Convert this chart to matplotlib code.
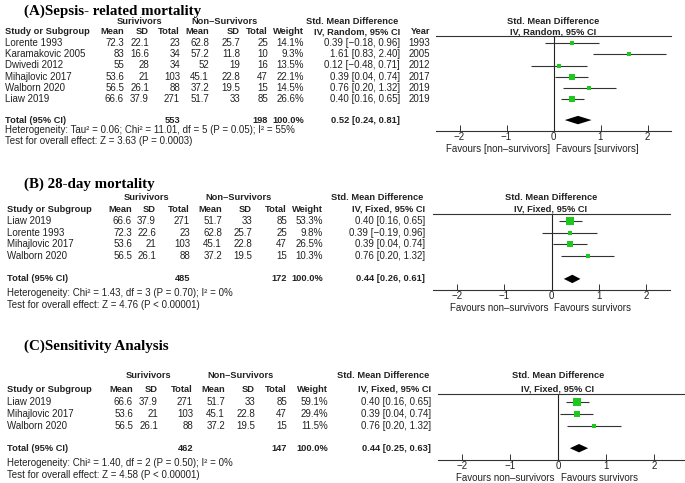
import matplotlib
matplotlib.use("Agg")
import matplotlib.pyplot as plt

W, H = 685, 483
FS = 7.0
FSB = 6.7
TFS = 10.8
TC = "#222222"
GREEN = "#1ec81e"
plt.rcParams['font.family'] = ['Liberation Sans', 'DejaVu Sans']

# ---------------- data ----------------
A_studies = ["Lorente 1993", "Karamakovic 2005", "Dwivedi 2012", "Mihajlovic 2017", "Walborn 2020", "Liaw 2019"]
A_surv_mean = [72.3, 83, 55, 53.6, 56.5, 66.6]
A_surv_sd = [22.1, 16.6, 28, 21, 26.1, 37.9]
A_surv_n = [23, 34, 34, 103, 88, 271]
A_non_mean = [62.8, 57.2, 52, 45.1, 37.2, 51.7]
A_non_sd = [25.7, 11.8, 19, 22.8, 19.5, 33]
A_non_n = [25, 10, 16, 47, 15, 85]
A_weight = [14.1, 9.3, 13.5, 22.1, 14.5, 26.6]
A_smd = [0.39, 1.61, 0.12, 0.39, 0.76, 0.40]
A_lo = [-0.18, 0.83, -0.48, 0.04, 0.20, 0.16]
A_hi = [0.96, 2.40, 0.71, 0.74, 1.32, 0.65]
A_year = [1993, 2005, 2012, 2017, 2019, 2019]
A_total = [553, 198, 0.52, 0.24, 0.81]
A_het = "Heterogeneity: Tau\u00b2 = 0.06; Chi\u00b2 = 11.01, df = 5 (P = 0.05); I\u00b2 = 55%"
A_test = "Test for overall effect: Z = 3.63 (P = 0.0003)"

B_studies = ["Liaw 2019", "Lorente 1993", "Mihajlovic 2017", "Walborn 2020"]
B_surv_mean = [66.6, 72.3, 53.6, 56.5]
B_surv_sd = [37.9, 22.6, 21, 26.1]
B_surv_n = [271, 23, 103, 88]
B_non_mean = [51.7, 62.8, 45.1, 37.2]
B_non_sd = [33, 25.7, 22.8, 19.5]
B_non_n = [85, 25, 47, 15]
B_weight = [53.3, 9.8, 26.5, 10.3]
B_smd = [0.40, 0.39, 0.39, 0.76]
B_lo = [0.16, -0.19, 0.04, 0.20]
B_hi = [0.65, 0.96, 0.74, 1.32]
B_total = [485, 172, 0.44, 0.26, 0.61]
B_het = "Heterogeneity: Chi\u00b2 = 1.43, df = 3 (P = 0.70); I\u00b2 = 0%"
B_test = "Test for overall effect: Z = 4.76 (P < 0.00001)"

C_studies = ["Liaw 2019", "Mihajlovic 2017", "Walborn 2020"]
C_surv_mean = [66.6, 53.6, 56.5]
C_surv_sd = [37.9, 21, 26.1]
C_surv_n = [271, 103, 88]
C_non_mean = [51.7, 45.1, 37.2]
C_non_sd = [33, 22.8, 19.5]
C_non_n = [85, 47, 15]
C_weight = [59.1, 29.4, 11.5]
C_smd = [0.40, 0.39, 0.76]
C_lo = [0.16, 0.04, 0.20]
C_hi = [0.65, 0.74, 1.32]
C_total = [462, 147, 0.44, 0.25, 0.63]
C_het = "Heterogeneity: Chi\u00b2 = 1.40, df = 2 (P = 0.50); I\u00b2 = 0%"
C_test = "Test for overall effect: Z = 4.58 (P < 0.00001)"

x_ticks = [-2, -1, 0, 1, 2]
x_ticklabels = ["\u22122", "\u22121", "0", "1", "2"]

fig = plt.figure(figsize=(W / 100, H / 100), dpi=100)


def T(x, y, s, ha="left", bold=False, size=None, family=None, color=TC):
    kw = {}
    if family:
        kw["family"] = family
    if size is None:
        size = FSB if bold else FS
    fig.text(x / W, 1 - y / H, s, ha=ha, va="center", fontsize=size,
             fontweight="bold" if bold else "normal", color=color, **kw)


def num(v):
    return f"{v:g}"


def ci(e, l, h):
    f = lambda v: f"{v:.2f}".replace("-", "\u2212")
    return f"{f(e)} [{f(l)}, {f(h)}]"


def panel(title, lay, studies, sm, ssd, sn, nm, nsd, nn, wt, smd, lo, hi, total,
          het, test, method, favl, favr, year=None):
    cols = lay["cols"]
    T(24, lay["title_y"], title, bold=True, size=TFS, family="Liberation Serif", color="black")
    # header row 1
    T(lay["surv_c"], lay["h1"], "Surivivors", ha="center", bold=True)
    T(lay["non_c"], lay["h1"], "Non\u2013Survivors", ha="center", bold=True)
    T(lay["smd_r"], lay["h1"], "Std. Mean Difference", ha="right", bold=True)
    T(lay["fp_c"], lay["h1"], "Std. Mean Difference", ha="center", bold=True)
    # header row 2
    T(lay["x0"], lay["h2"], "Study or Subgroup", bold=True)
    for key, lab in zip(["m1", "s1", "n1", "m2", "s2", "n2", "w"],
                        ["Mean", "SD", "Total", "Mean", "SD", "Total", "Weight"]):
        T(cols[key], lay["h2"], lab, ha="right", bold=True)
    T(cols["ci"], lay["h2"], f"IV, {method}, 95% CI", ha="right", bold=True)
    T(lay["fp_c"], lay["h2"], f"IV, {method}, 95% CI", ha="center", bold=True)
    if year is not None:
        T(cols["yr"], lay["h2"], "Year", ha="right", bold=True)

    r0, st = lay["row0"], lay["step"]
    n = len(studies)
    for i in range(n):
        y = r0 + st * i
        T(lay["x0"], y, studies[i])
        for key, v in zip(["m1", "s1", "n1", "m2", "s2", "n2"],
                          [sm[i], ssd[i], sn[i], nm[i], nsd[i], nn[i]]):
            T(cols[key], y, num(v), ha="right")
        T(cols["w"], y, f"{wt[i]:.1f}%", ha="right")
        T(cols["ci"], y, ci(smd[i], lo[i], hi[i]), ha="right")
        if year is not None:
            T(cols["yr"], y, str(year[i]), ha="right")
    ti = lay["tot_idx"]
    yt = r0 + st * ti
    T(lay["x0"], yt, "Total (95% CI)", bold=True)
    T(cols["n1"], yt, str(total[0]), ha="right", bold=True)
    T(cols["n2"], yt, str(total[1]), ha="right", bold=True)
    T(cols["w"], yt, "100.0%", ha="right", bold=True)
    T(cols["ci"], yt, ci(total[2], total[3], total[4]), ha="right", bold=True)
    T(lay["x0"], lay["het_y"], het)
    T(lay["x0"], lay["test_y"], test)

    # forest plot axes
    L, R, top, bot = lay["ax"]
    ax = fig.add_axes([L / W, 1 - bot / H, (R - L) / W, (bot - top) / H])
    ax.set_xlim(*lay["xlim"])
    ax.set_ylim((bot - r0) / st, (top - r0) / st)
    ax.patch.set_alpha(0)
    for s in ["left", "right"]:
        ax.spines[s].set_visible(False)
    for s in ["top", "bottom"]:
        ax.spines[s].set_linewidth(0.8)
        ax.spines[s].set_color("#333333")
    ax.set_yticks([])
    ax.set_xticks(x_ticks)
    ax.set_xticklabels(x_ticklabels, fontsize=FS, color=TC)
    ax.tick_params(axis="x", direction="in", length=4, width=0.7, pad=0.5, colors="#333333",
                   labelcolor=TC)
    ax.axvline(0, color="#222222", lw=0.8)
    for i in range(n):
        ax.hlines(i, lo[i], hi[i], color="#333333", lw=0.8)
        side = max(2.0, 1.08 * wt[i] ** 0.5)
        ax.plot(smd[i], i, marker="s", ms=side * 0.72, color=GREEN, mec=GREEN, mew=0)
    e, l, h = total[2], total[3], total[4]
    hh = 4.2 / st
    ax.fill([l, e, h, e], [ti, ti - hh, ti, ti + hh], color="black", lw=0)
    x0p = L + (0 - lay["xlim"][0]) / (lay["xlim"][1] - lay["xlim"][0]) * (R - L)
    T(x0p - 3, lay["fav_y"], favl, ha="right")
    T(x0p + 3, lay["fav_y"], favr, ha="left")


layA = dict(title_y=11, h1=21, h2=32, row0=43, step=11.25, tot_idx=6.85, het_y=130, test_y=141,
            fav_y=148.5, x0=5, surv_c=139, non_c=224, smd_r=398, fp_c=553,
            cols=dict(m1=124, s1=149, n1=180, m2=209, s2=240, n2=268, w=304, ci=400, yr=430),
            ax=(436, 671, 36, 131), xlim=(-2.5, 2.5))
layB = dict(title_y=184, h1=197, h2=209, row0=221, step=11.7, tot_idx=4.95, het_y=293, test_y=305,
            fav_y=308, x0=7, surv_c=146, non_c=238, smd_r=423, fp_c=551,
            cols=dict(m1=132, s1=156, n1=190, m2=222, s2=252, n2=287, w=323, ci=425),
            ax=(433, 670, 214, 290), xlim=(-2.5, 2.5))
layC = dict(title_y=346, h1=376, h2=389, row0=402, step=12, tot_idx=3.85, het_y=463, test_y=475,
            fav_y=478, x0=7, surv_c=148, non_c=240, smd_r=429, fp_c=558,
            cols=dict(m1=133, s1=158, n1=193, m2=225, s2=255, n2=287, w=328, ci=431),
            ax=(438, 685, 394, 460), xlim=(-2.5, 2.65))

panel("(A)Sepsis- related mortality", layA, A_studies, A_surv_mean, A_surv_sd, A_surv_n,
      A_non_mean, A_non_sd, A_non_n, A_weight, A_smd, A_lo, A_hi, A_total, A_het, A_test,
      "Random", "Favours [non\u2013survivors]", "Favours [survivors]", year=A_year)
panel("(B) 28-day mortality", layB, B_studies, B_surv_mean, B_surv_sd, B_surv_n,
      B_non_mean, B_non_sd, B_non_n, B_weight, B_smd, B_lo, B_hi, B_total, B_het, B_test,
      "Fixed", "Favours non\u2013survivors", "Favours survivors")
panel("(C)Sensitivity Analysis", layC, C_studies, C_surv_mean, C_surv_sd, C_surv_n,
      C_non_mean, C_non_sd, C_non_n, C_weight, C_smd, C_lo, C_hi, C_total, C_het, C_test,
      "Fixed", "Favours non\u2013survivors", "Favours survivors")

fig.savefig("out.png", dpi=100, facecolor="white")
